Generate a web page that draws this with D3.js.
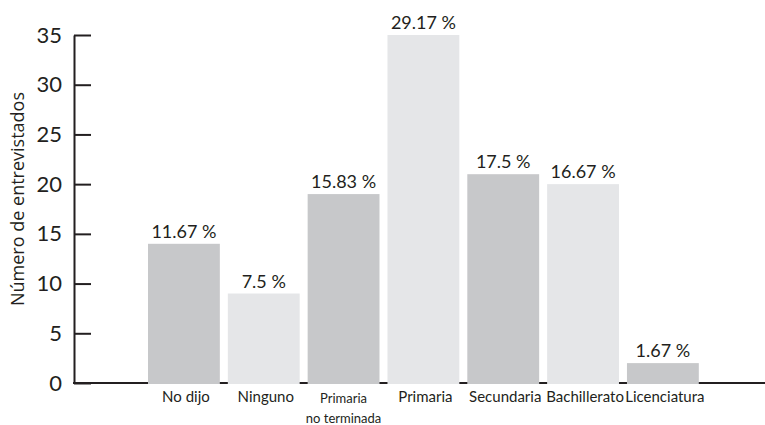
<!DOCTYPE html>
<html>
<head>
<meta charset="utf-8">
<script src="https://cdn.jsdelivr.net/npm/d3@7"></script>
<style>
  body { margin: 0; background: #fff; }
  svg text { fill: #231f20; }
</style>
</head>
<body>
<div class="chart"></div>
<script>
const categories = ['No dijo', 'Ninguno', 'Primaria no terminada', 'Primaria', 'Secundaria', 'Bachillerato', 'Licenciatura'];
const counts = [14, 9, 19, 35, 21, 20, 2];
const percents = ['11.67 %', '7.5 %', '15.83 %', '29.17 %', '17.5 %', '16.67 %', '1.67 %'];
const yTicks = [0, 5, 10, 15, 20, 25, 30, 35];

const w = 765;
const h = 425;
const font = 'Lato, "Open Sans", sans-serif';
const ink = '#231f20';

const svg = d3.select('.chart')
  .append('svg')
  .attr('width', w)
  .attr('height', h);

const xScale = d3.scaleBand()
  .domain(categories)
  .range([144, 702.8])
  .paddingInner(0.1)
  .paddingOuter(0.05);

const yScale = d3.scaleLinear()
  .domain([0, 35])
  .range([383, 35]);

// y axis, ticks pointing inward
const yAxis = svg.append('g')
  .attr('transform', 'translate(74, 0)')
  .call(d3.axisLeft(yScale)
    .tickValues(yTicks)
    .tickSizeInner(-17)
    .tickSizeOuter(0)
    .tickPadding(12));
yAxis.select('.domain').attr('stroke', ink).attr('stroke-width', 2);
yAxis.selectAll('.tick line').attr('stroke', ink).attr('stroke-width', 2);
yAxis.selectAll('.tick text')
  .style('font-family', font)
  .style('font-size', '22px')
  .attr('fill', ink);

// baseline
svg.append('line')
  .attr('x1', 73)
  .attr('x2', w)
  .attr('y1', yScale(0))
  .attr('y2', yScale(0))
  .attr('stroke', ink)
  .attr('stroke-width', 2);

svg.selectAll('rect.bar')
  .data(categories)
  .enter()
  .append('rect')
  .attr('class', 'bar')
  .attr('x', (d) => xScale(d))
  .attr('y', (d, i) => yScale(counts[i]))
  .attr('width', xScale.bandwidth())
  .attr('height', (d, i) => yScale(0) - yScale(counts[i]) + 1)
  .attr('fill', (d, i) => i % 2 === 0 ? '#c7c8ca' : '#e5e6e8');

svg.selectAll('text.pct')
  .data(categories)
  .enter()
  .append('text')
  .attr('class', 'pct')
  .attr('x', (d) => xScale(d) + xScale.bandwidth() / 2)
  .attr('y', (d, i) => yScale(counts[i]) - 6)
  .attr('text-anchor', 'middle')
  .style('font-family', font)
  .style('font-size', '18px')
  .text((d, i) => percents[i]);

// category labels
const xAxis = svg.append('g')
  .attr('transform', `translate(0, ${yScale(0)})`)
  .call(d3.axisBottom(xScale).tickSize(0).tickPadding(0));
xAxis.select('.domain').remove();
xAxis.selectAll('.tick text').remove();
xAxis.selectAll('.tick').each(function (d) {
  const t = d3.select(this).append('text')
    .attr('text-anchor', 'middle')
    .style('font-family', font)
    .attr('fill', ink);
  if (d === 'Primaria no terminada') {
    t.style('font-size', '13px');
    t.append('tspan').attr('x', 0).attr('y', 20).text('Primaria');
    t.append('tspan').attr('x', 0).attr('y', 40).text('no terminada');
  } else {
    t.style('font-size', '15px')
      .attr('x', 2)
      .attr('y', 19)
      .text(d);
  }
});

svg.append('text')
  .attr('transform', 'translate(24, 199) rotate(-90)')
  .attr('text-anchor', 'middle')
  .style('font-family', '"Open Sans", sans-serif')
  .style('font-size', '18px')
  .text('Número de entrevistados');
</script>
</body>
</html>
